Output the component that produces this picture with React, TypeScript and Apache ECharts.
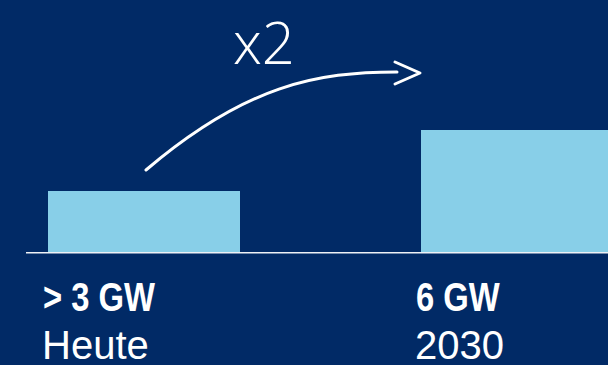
import React, { useEffect, useRef } from "react";
import * as echarts from "echarts";

const categories = ["Heute", "2030"];
const values = [3, 6];
const valueLabels = ["> 3 GW", "6 GW"];
const multiplierLabel = "x2";

const NAVY = "#012a66";
const BAR = "#88cfe8";

export default function App() {
  const ref = useRef<HTMLDivElement>(null);

  useEffect(() => {
    document.body.style.margin = "0";
    const chart = echarts.init(ref.current!, undefined, { renderer: "svg" });
    chart.setOption({
      animation: false,
      backgroundColor: NAVY,
      grid: { left: 144, right: 91, top: 130, bottom: 113 },
      xAxis: {
        type: "category",
        data: categories,
        boundaryGap: false,
        axisLine: { show: false },
        axisTick: { show: false },
        axisLabel: { show: false },
      },
      yAxis: { type: "value", min: 0, max: 6, show: false },
      series: [
        {
          type: "bar",
          data: values,
          barWidth: 192,
          clip: false,
          itemStyle: { color: BAR },
        },
      ],
    });

    const base = chart.convertToPixel({ seriesIndex: 0 }, [0, 0]) as number[];
    const b1 = chart.convertToPixel({ seriesIndex: 0 }, [0, values[0]]) as number[];
    const b2 = chart.convertToPixel({ seriesIndex: 0 }, [1, values[1]]) as number[];

    const sx = b1[0] + 2;
    const sy = b1[1] - 21;
    const ex = b2[0] - 120;
    const ey = b2[1] - 58;
    const tipX = b2[0] - 97;
    const tipY = b2[1] - 57;

    const labelGraphics: any[] = [];
    categories.forEach((cat, i) => {
      const p = chart.convertToPixel({ seriesIndex: 0 }, [i, 0]) as number[];
      const left = p[0] - 96 - 5;
      labelGraphics.push({
        type: "text",
        x: left,
        y: p[1] + 45,
        scaleX: 0.82,
        style: {
          x: 0,
          y: 0,
          text: valueLabels[i],
          fill: "#ffffff",
          font: "bold 40px 'Liberation Sans', Arial, sans-serif",
          align: "left",
          verticalAlign: "middle",
        },
      });
      labelGraphics.push({
        type: "text",
        x: left - 1,
        y: p[1] + 93,
        style: {
          x: 0,
          y: 0,
          text: cat,
          fill: "#ffffff",
          font: "40px 'Liberation Sans', Arial, sans-serif",
          align: "left",
          verticalAlign: "middle",
        },
      });
    });

    chart.setOption({
      graphic: [
        {
          type: "line",
          shape: { x1: 26, y1: base[1] + 0.75, x2: 608, y2: base[1] + 0.75 },
          style: { stroke: "#eef1f6", lineWidth: 1.5 },
          z: 10,
        },
        {
          type: "bezierCurve",
          shape: {
            x1: sx,
            y1: sy,
            cpx1: sx + 100,
            cpy1: sy - 85,
            cpx2: ex - 80,
            cpy2: ey,
            x2: ex,
            y2: ey,
          },
          style: { stroke: "#ffffff", lineWidth: 3, fill: "none", lineCap: "round" },
        },
        {
          type: "polyline",
          shape: {
            points: [
              [tipX - 25, tipY - 11],
              [tipX, tipY],
              [tipX - 25, tipY + 11],
            ],
          },
          style: { stroke: "#ffffff", lineWidth: 3, fill: "none", lineCap: "round", lineJoin: "round" },
        },
        {
          type: "text",
          style: {
            x: 233,
            y: 41,
            text: multiplierLabel,
            fill: "#ffffff",
            font: "300 58px 'Open Sans', 'Liberation Sans', sans-serif",
            align: "left",
            verticalAlign: "middle",
          },
        },
        ...labelGraphics,
      ],
    });

    return () => chart.dispose();
  }, []);

  return (
    <div
      ref={ref}
      style={{ position: "fixed", left: 0, top: 0, width: 608, height: 365 }}
    />
  );
}
